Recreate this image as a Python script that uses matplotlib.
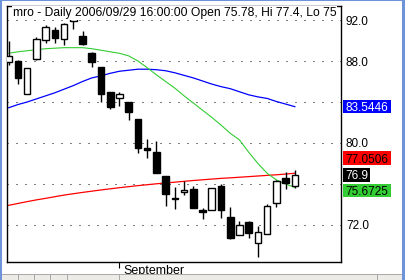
import matplotlib
matplotlib.use("Agg")
import matplotlib.pyplot as plt
from matplotlib.patches import Rectangle
from matplotlib.transforms import Bbox, IdentityTransform

plt.rcParams['font.family'] = ['Liberation Sans', 'DejaVu Sans']

# ---------------- data ----------------
dates = ["08/16", "08/17", "08/18", "08/21", "08/22", "08/23", "08/24", "08/25",
         "08/28", "08/29", "08/30", "08/31", "09/01", "09/05", "09/06", "09/07",
         "09/08", "09/11", "09/12", "09/13", "09/14", "09/15", "09/18", "09/19",
         "09/20", "09/21", "09/22", "09/25", "09/26", "09/27", "09/28", "09/29"]
opens = [87.93, 88.00, 84.75, 88.20, 90.05, 91.02, 90.12, 91.93, 90.44, 88.81, 87.39, 84.95,
         84.36, 84.00, 82.31, 79.48, 79.12, 76.78, 74.65, 75.19, 75.51, 73.46, 73.43, 75.80,
         72.75, 70.99, 72.26, 70.27, 71.15, 74.12, 76.61, 75.78]
highs = [89.95, 88.05, 87.29, 90.37, 91.51, 91.35, 91.70, 92.32, 90.96, 88.90, 87.40, 84.95,
         84.95, 84.00, 82.31, 80.36, 80.20, 76.80, 75.70, 76.29, 75.80, 73.63, 75.58, 75.97,
         73.73, 72.39, 72.36, 71.90, 74.05, 76.36, 77.14, 77.40]
lows = [87.60, 85.76, 84.75, 88.10, 89.76, 89.73, 89.56, 91.09, 89.60, 87.39, 84.03, 83.29,
        83.61, 82.24, 78.99, 78.51, 77.10, 73.88, 73.53, 74.93, 73.63, 72.56, 73.43, 72.65,
        70.67, 70.99, 70.70, 68.90, 71.10, 73.79, 75.48, 75.60]
closes = [88.49, 86.37, 87.29, 90.12, 91.29, 90.21, 91.61, 92.17, 89.63, 87.87, 84.78, 83.54,
          84.75, 83.02, 79.48, 79.30, 77.10, 74.99, 74.55, 75.41, 73.69, 73.24, 75.58, 73.43,
          70.76, 71.97, 71.25, 71.34, 73.85, 76.29, 76.12, 76.90]
ma_green = [88.75, 88.90, 89.00, 89.10, 89.20, 89.25, 89.30, 89.30, 89.30, 89.20, 89.05, 88.90,
            88.75, 88.50, 88.00, 87.35, 86.65, 86.00, 85.35, 84.60, 83.90, 83.20, 82.50, 81.75,
            80.95, 80.30, 79.10, 78.00, 77.05, 76.40, 76.00, 75.6725]
ma_blue = [83.44, 83.75, 84.00, 84.30, 84.60, 84.90, 85.25, 85.60, 86.00, 86.35, 86.55, 86.80,
           87.00, 87.10, 87.20, 87.20, 87.15, 87.05, 86.85, 86.60, 86.35, 86.05, 85.75, 85.50,
           85.30, 85.00, 84.70, 84.50, 84.35, 84.05, 83.80, 83.5446]
ma_red = [73.92, 74.10, 74.28, 74.45, 74.60, 74.76, 74.92, 75.05, 75.18, 75.30, 75.42, 75.53,
          75.64, 75.74, 75.84, 75.93, 76.02, 76.10, 76.18, 76.26, 76.34, 76.41, 76.48, 76.55,
          76.60, 76.66, 76.72, 76.78, 76.84, 76.90, 76.97, 77.0506]
y_ticks = [72.0, 76.0, 80.0, 84.0, 88.0, 92.0]
y_hidden = [76.0, 84.0]   # covered by the value boxes in the reference
month_label = "September"
month_index = 12
title = "mro - Daily 2006/09/29 16:00:00 Open 75.78, Hi 77.4, Lo 75.6"

# ---------------- figure ----------------
W, H = 405, 280
fig = plt.figure(figsize=(W / 100, H / 100), dpi=100)
fig.patch.set_facecolor("white")
ax = fig.add_axes([7 / W, 1 - 262 / H, 334 / W, 256 / H])
ax.set_facecolor("white")
ax.set_xlim(-0.184, 36.0)
ax.set_ylim(68.39, 93.366)

for s in ax.spines.values():
    s.set_linewidth(1.0)
    s.set_color("black")

# grid
for v in y_ticks:
    ax.axhline(v, color="black", lw=0.72, ls=(0, (1, 8)), zorder=0.5)

x = list(range(len(closes)))
ax.plot(x, ma_red, color="#ff0000", lw=0.9, zorder=1)
ax.plot(x, ma_blue, color="#0000ff", lw=0.9, zorder=1)
ax.plot(x, ma_green, color="#33cc33", lw=0.8, zorder=1)

bw = 0.72
for i, (o, h, l, c) in enumerate(zip(opens, highs, lows, closes)):
    ax.vlines(i, l, h, color="black", lw=1.0, zorder=2)
    up = c >= o
    bottom = min(o, c)
    height = max(abs(c - o), 0.12)
    ax.add_patch(Rectangle((i - bw / 2, bottom), bw, height,
                           facecolor="white" if up else "black",
                           edgecolor="black", lw=1.0, zorder=3))

# axes ticks
ax.yaxis.tick_right()
ax.set_yticks(y_ticks)
ax.set_yticklabels(["" if v in y_hidden else f"{v:.1f}" for v in y_ticks])
ax.tick_params(axis="y", length=0, pad=3.6, labelsize=8.5, colors="black")
ax.set_xticks([month_index])
ax.set_xticklabels([""])
ax.tick_params(axis="x", length=4.3, width=0.8, direction="out", colors="black")
ax.annotate(month_label, xy=(month_index, 0), xycoords=("data", "axes fraction"),
            xytext=(4, -3), textcoords="offset pixels", ha="left", va="top", fontsize=9)

# title (clipped at right of frame)
t = ax.text(13 / W, 1 - 16 / H, title, transform=fig.transFigure, fontsize=8.7,
            ha="left", va="baseline", zorder=6,
            bbox=dict(facecolor="white", edgecolor="none", pad=1.0))
t.set_clip_on(True)
t.set_clip_box(Bbox([[7, 0], [337, H]]))

# right value labels
ident = IdentityTransform()
def ypix(v):
    return ax.transData.transform((0, v))[1]

labels = [
    (f"{ma_blue[-1]:.4f}", ma_blue[-1], 0, "#0000ff", "white", 48),
    (f"{ma_red[-1]:.4f}", ma_red[-1], 15, "#ff0000", "black", 48),
    (f"{closes[-1]:g}", closes[-1], 0, "black", "white", 27),
    (f"{ma_green[-1]:.4f}", ma_green[-1], -3, "#33cc33", "black", 48),
]
for txt, val, off, bg, fg, wdt in labels:
    yc = ypix(val) + off
    fig.patches.append(Rectangle((343, yc - 6.8), wdt, 13.6, transform=ident,
                                 facecolor=bg, edgecolor="none", zorder=5))
    fig.text(345.5, yc, txt, transform=ident, ha="left", va="center_baseline",
             fontsize=8.5, color=fg, zorder=6)

# window chrome
chrome = "#6f93d8"
fig.patches.append(Rectangle((0, 0), 2, H, transform=ident, facecolor=chrome, edgecolor="none", zorder=4))
fig.patches.append(Rectangle((0, H - 1), W, 1, transform=ident, facecolor=chrome, edgecolor="none", zorder=4))
fig.patches.append(Rectangle((402, 0), 3, H, transform=ident, facecolor=chrome, edgecolor="none", zorder=4))
fig.patches.append(Rectangle((2, 0), 400, 5, transform=ident, facecolor="#ecebe6", edgecolor="none", zorder=4))
fig.patches.append(Rectangle((2, 5), 400, 1, transform=ident, facecolor="#a9a9a9", edgecolor="none", zorder=4))
for sx in [18, 34, 50, 67, 119, 377]:
    fig.patches.append(Rectangle((sx, 0), 1, 5, transform=ident, facecolor="#a9a9a9", edgecolor="none", zorder=4))

fig.savefig("out.png", dpi=100)
